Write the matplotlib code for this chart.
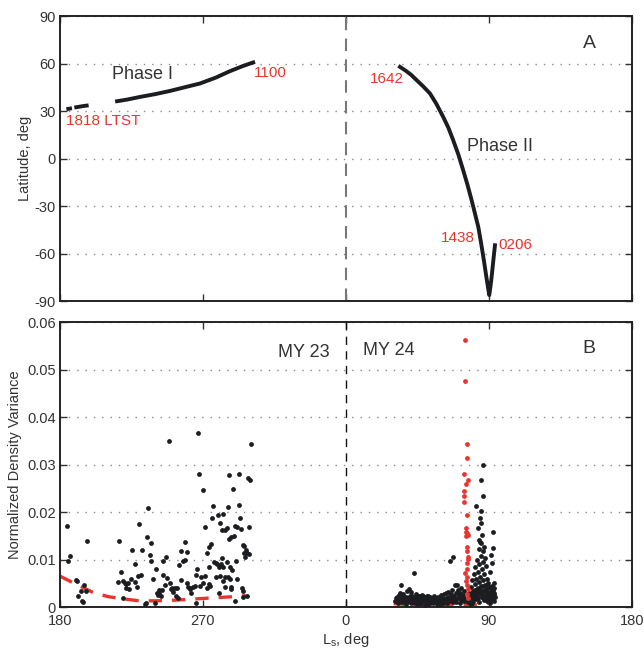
import numpy as np
import matplotlib
matplotlib.use("Agg")
import matplotlib.pyplot as plt

plt.rcParams["font.family"] = ["Liberation Sans", "DejaVu Sans"]
plt.rcParams["axes.unicode_minus"] = False

# Orbit track: latitude vs Ls. MY 23 values are Ls 180-360, MY 24 values Ls 0-180
phase1_early_ls = [184.0, 186.0, 187.5, np.nan, 189.0, 192.0, 195.0, 198.0]
phase1_early_lat = [31.3, 31.6, 31.9, np.nan, 32.3, 32.8, 33.3, 33.7]
phase1_ls = [215.9, 222.0, 230.3, 240.0, 249.2, 258.0, 268.1, 278.0, 287.0, 295.0, 301.6]
phase1_lat = [36.3, 37.3, 39.0, 40.8, 42.8, 45.0, 47.5, 51.2, 55.3, 58.5, 60.8]
phase2_ls = [34.0, 38.0, 41.0, 44.5, 48.5, 52.9, 57.0, 61.2, 64.5, 67.5, 70.8, 73.8,
             76.5, 79.1, 81.3, 83.3, 85.1, 86.8, 88.5, 90.2, 91.0, 91.7, 92.8, 93.8]
phase2_lat = [58.0, 55.3, 53.0, 49.6, 45.8, 41.2, 34.5, 26.4, 19.5, 11.7, 2.5, -7.3,
              -16.5, -26.2, -35.0, -43.1, -53.5, -64.1, -75.5, -86.2, -80.5, -74.7, -64.0, -54.7]

# Density variance, MY 23 (black)
my23_ls = [184.4, 186.3, 185.0, 190.1, 190.8, 195.1, 193.4, 196.4, 191.3, 193.8, 194.7,
           197.2, 217.3, 218.6, 216.5, 219.9, 220.9, 221.8, 222.6, 221.5, 223.2, 219.4,
           225.3, 227.0, 224.5, 227.4, 228.3, 229.1, 230.8, 229.9, 231.8, 235.4, 234.8,
           237.5, 236.6, 237.1, 240.4, 238.7, 242.5, 241.7, 234.1, 239.6, 241.0, 233.8,
           243.4, 242.2,
           246.7, 245.0, 244.6, 247.1, 245.9, 244.0, 249.2, 250.3, 251.3, 252.4, 253.8,
           253.0, 254.5, 256.0, 255.1, 256.3, 258.9, 259.7, 257.6, 258.7, 259.7, 260.7,
           261.8, 262.6, 263.5, 264.8, 265.6, 266.4, 265.6, 267.3, 266.8, 269.8, 268.9,
           270.2, 271.0, 272.3, 273.6, 274.4, 271.0, 272.7, 274.0, 274.8, 275.5, 276.5,
           274.0, 276.9, 278.2, 279.0, 279.6, 280.7, 281.9, 282.8, 283.6, 284.9, 285.7,
           286.5, 286.2, 287.4, 289.0, 289.5, 290.3, 291.2, 292.4, 292.4, 293.3, 294.1,
           295.0, 295.8, 297.1, 297.9, 299.1, 298.3, 299.6, 300.4, 298.8, 295.8, 296.6,
           290.8, 284.9, 281.9, 281.1, 280.3, 282.8, 287.0, 288.2, 283.8, 285.9, 278.2,
           280.7, 287.0, 291.6, 283.8, 282.8, 287.4, 287.8, 294.5, 295.0, 295.4, 279.8,
           290.3, 297.9, 248.9, 250.0, 262.0, 268.0]
my23_var = [0.0170, 0.0107, 0.0097, 0.0057, 0.0054, 0.0047, 0.0034, 0.0034, 0.0023, 0.0013, 0.0011,
            0.0138, 0.0140, 0.0074, 0.0053, 0.0055, 0.0050, 0.0048, 0.0050, 0.0039, 0.0037, 0.0020,
            0.0121, 0.0091, 0.0060, 0.0053, 0.0043, 0.0065, 0.0067, 0.0175, 0.0121, 0.0208, 0.0148,
            0.0135, 0.0109, 0.0097, 0.0081, 0.0059, 0.0036, 0.0025, 0.0008, 0.0009, 0.0029, 0.0007,
            0.0023, 0.0030,
            0.0106, 0.0097, 0.0067, 0.0061, 0.0046, 0.0036, 0.0050, 0.0041, 0.0032, 0.0041, 0.0041,
            0.0023, 0.0018, 0.0057, 0.0089, 0.0119, 0.0137, 0.0116, 0.0097, 0.0100, 0.0051, 0.0043,
            0.0037, 0.0030, 0.0043, 0.0044, 0.0067, 0.0081, 0.0008, 0.0280, 0.0366, 0.0246, 0.0064,
            0.0050, 0.0066, 0.0041, 0.0048, 0.0044, 0.0169, 0.0114, 0.0126, 0.0133, 0.0187, 0.0213,
            0.0085, 0.0095, 0.0093, 0.0091, 0.0194, 0.0176, 0.0163, 0.0196, 0.0162, 0.0166, 0.0210,
            0.0278, 0.0143, 0.0147, 0.0248, 0.0149, 0.0171, 0.0169, 0.0215, 0.0281, 0.0187, 0.0164,
            0.0131, 0.0128, 0.0120, 0.0114, 0.0169, 0.0271, 0.0267, 0.0343, 0.0112, 0.0113, 0.0106,
            0.0097, 0.0095, 0.0103, 0.0091, 0.0084, 0.0085, 0.0084, 0.0078, 0.0064, 0.0064, 0.0064,
            0.0066, 0.0058, 0.0058, 0.0043, 0.0055, 0.0043, 0.0037, 0.0041, 0.0034, 0.0022, 0.0030,
            0.0012, 0.0023, 0.0349, 0.0038, 0.0040, 0.0045]

# Density variance, MY 24 (black)
my24_ls = [31.0, 32.0, 32.5, 33.0, 34.0, 34.6, 35.0, 35.5, 36.0, 37.0, 37.5, 38.0, 38.5, 39.0,
           39.6, 40.0, 40.9, 41.0, 41.5, 42.0,
           43.0, 43.0, 43.5, 44.0, 44.5, 45.0, 45.5, 46.0, 46.6, 47.0, 47.5, 48.0, 48.6, 49.0,
           49.5, 50.0, 50.8, 51.4, 51.5, 52.0, 52.5, 53.0, 53.5, 54.0, 54.5, 55.0,
           55.5, 56.0, 56.5, 57.0, 57.5, 58.0, 58.5, 59.0, 59.5, 60.0, 60.5, 61.0, 61.5, 62.0,
           62.5, 63.0, 63.5, 64.0, 64.4, 65.0,
           65.8, 66.0, 66.5, 67.0, 67.5, 67.5, 68.0, 68.6, 69.0, 69.5, 70.0, 70.5, 71.0, 71.5,
           72.0, 72.5, 73.0, 73.5, 74.0, 74.5,
           77.0, 77.5, 78.0, 78.5, 79.0, 79.5, 80.0, 80.0, 80.5, 81.0, 81.0, 81.5, 81.8, 82.0,
           82.0, 82.5, 82.5, 83.0, 83.0, 83.2, 83.5, 83.5, 83.9, 84.0, 84.0, 84.3, 84.3, 84.5,
           84.7, 84.7, 85.0, 85.0, 85.1, 85.3, 85.5, 85.5, 85.8, 86.0, 86.0, 86.0, 86.0, 86.5,
           86.5, 87.0, 87.0, 87.0, 87.5, 87.5, 88.0, 88.0, 88.5, 88.5, 89.0, 89.0, 89.5, 90.0,
           90.0, 90.6, 91.0, 91.0, 91.6, 92.0, 92.0, 92.2, 92.7, 92.7, 93.0, 93.0, 93.5, 93.5,
           94.0, 79.5, 80.5, 82.0, 83.0, 84.5, 85.5, 86.5, 88.0, 89.5, 91.0, 92.5, 78.5, 90.5]
my24_var = [0.0012, 0.0022, 0.0008, 0.0016, 0.0030, 0.0046, 0.0010, 0.0020, 0.0027, 0.0014,
            0.0006, 0.0022, 0.0033, 0.0012, 0.0037, 0.0018, 0.0032, 0.0008, 0.0024, 0.0014,
            0.0071, 0.0020, 0.0010, 0.0028, 0.0016, 0.0006, 0.0024, 0.0013, 0.0023, 0.0018,
            0.0009, 0.0026, 0.0024, 0.0014, 0.0005, 0.0020, 0.0023, 0.0024, 0.0012, 0.0017,
            0.0007, 0.0022, 0.0013, 0.0019, 0.0009, 0.0016,
            0.0024, 0.0011, 0.0019, 0.0007, 0.0015, 0.0022, 0.0012, 0.0018, 0.0006, 0.0025,
            0.0014, 0.0020, 0.0010, 0.0027, 0.0016, 0.0030, 0.0009, 0.0021, 0.0032, 0.0014,
            0.0097, 0.0028, 0.0018, 0.0035, 0.0106, 0.0011, 0.0024, 0.0046, 0.0030, 0.0017,
            0.0046, 0.0036, 0.0022, 0.0009, 0.0030, 0.0040, 0.0018, 0.0026, 0.0012, 0.0034,
            0.0015, 0.0030, 0.0008, 0.0042, 0.0022, 0.0056, 0.0034, 0.0012, 0.0070, 0.0048,
            0.0026, 0.0084, 0.0213, 0.0060, 0.0016, 0.0100, 0.0038, 0.0074, 0.0028, 0.0166,
            0.0122, 0.0052, 0.0141, 0.0090, 0.0010, 0.0187, 0.0137, 0.0064, 0.0176, 0.0135,
            0.0108, 0.0044, 0.0267, 0.0203, 0.0080, 0.0022, 0.0152, 0.0299, 0.0234, 0.0118,
            0.0056, 0.0094, 0.0034, 0.0126, 0.0070, 0.0014, 0.0104, 0.0046, 0.0086, 0.0026,
            0.0060, 0.0040, 0.0032, 0.0012, 0.0050, 0.0024, 0.0042, 0.0074, 0.0036, 0.0016,
            0.0109, 0.0044, 0.0028, 0.0092, 0.0159, 0.0124, 0.0050, 0.0030, 0.0040, 0.0012,
            0.0022, 0.0008, 0.0018, 0.0030, 0.0020, 0.0036, 0.0028, 0.0020, 0.0034, 0.0016,
            0.0026, 0.0018, 0.0006, 0.0008]

# Low-variance band of MY 24 orbits near the floor
band24_ls = [31.5, 32.8, 33.6, 34.3, 36.3, 36.8, 38.3, 39.4, 40.3, 41.8, 42.6, 43.8, 44.8,
             45.8, 46.3, 47.3, 48.3, 49.3, 50.3, 51.0, 52.3, 53.3, 54.3, 55.3, 56.3, 57.3,
             58.3, 59.3, 60.3, 61.3, 62.3, 63.3, 64.3, 65.3, 66.3, 67.3, 68.3, 69.3, 70.3,
             71.3, 72.3, 73.3, 74.3, 77.3, 78.3, 79.3, 80.3, 81.3, 82.3, 83.3, 84.3, 85.3,
             86.3, 87.3, 88.3, 89.3, 90.3, 91.3, 92.3, 93.3, 76.8, 88.8, 90.8, 86.8]
band24_var = [0.0018, 0.0013, 0.0025, 0.0019, 0.0015, 0.0021, 0.0011, 0.0016, 0.0024, 0.0019,
              0.0009, 0.0015, 0.0021, 0.0018, 0.0008, 0.0013, 0.0017, 0.0021, 0.0011, 0.0016,
              0.0020, 0.0010, 0.0015, 0.0021, 0.0016, 0.0011, 0.0017, 0.0013, 0.0019, 0.0009,
              0.0014, 0.0020, 0.0012, 0.0018, 0.0013, 0.0021, 0.0016, 0.0011, 0.0019, 0.0026,
              0.0015, 0.0022, 0.0019, 0.0022, 0.0019, 0.0030, 0.0024, 0.0036, 0.0028, 0.0040,
              0.0032, 0.0028, 0.0044, 0.0036, 0.0018, 0.0045, 0.0030, 0.0022, 0.0036, 0.0026,
              0.0010, 0.0028, 0.0018, 0.0020]

# Density variance, MY 24 (red column)
red_ls = [74.9, 74.9, 75.9, 76.1, 74.2, 76.6, 75.5, 74.2, 74.2, 74.4, 76.1, 75.3, 75.5,
          76.1, 76.6, 75.5, 76.3, 76.3, 76.6, 76.6, 76.3, 75.9, 75.1, 75.9, 75.7, 76.3,
          76.6, 76.3, 76.6]
red_var = [0.0562, 0.0476, 0.0344, 0.0313, 0.0280, 0.0267, 0.0259, 0.0245, 0.0234, 0.0222,
           0.0194, 0.0166, 0.0158, 0.0155, 0.0152, 0.0150, 0.0126, 0.0118, 0.0105, 0.0102,
           0.0093, 0.0081, 0.0071, 0.0064, 0.0055, 0.0046, 0.0037, 0.0027, 0.0020]

# Background level (red dashed)
bg23_ls = [180, 190, 200, 210, 220, 230, 240, 250, 260, 270, 280, 290, 297]
bg23_var = [0.0065, 0.0048, 0.0032, 0.0022, 0.0017, 0.0013, 0.0013, 0.0014, 0.0016,
            0.0018, 0.0020, 0.0022, 0.0024]
bg24_ls = [30, 40, 50, 60, 70, 80, 88, 92]
bg24_var = [0.0007, 0.0005, 0.0004, 0.0004, 0.0005, 0.0005, 0.0006, 0.0012]

xtick_pos = [180, 270, 360, 450, 540]
xtick_labels = ["180", "270", "0", "90", "180"]

RED = "#e8352e"
INK = "#1b1d20"
TXT = "#333333"


def my24(ls):
    # MY 24 season follows MY 23 on the same axis
    return np.asarray(ls, dtype=float) + 360.0


def style_axes(ax):
    ax.set_xlim(180, 540)
    ax.set_xticks(xtick_pos)
    ax.tick_params(direction="in", top=True, right=True, length=5, width=1,
                   labelsize=10.5, colors=TXT)
    ax.tick_params(axis="x", pad=5)
    ax.tick_params(axis="y", pad=3)
    for s in ax.spines.values():
        s.set_linewidth(1.4)
        s.set_color("#222222")
    ax.yaxis.grid(True, linestyle=(0, (1, 5)), color="#888888", linewidth=1)
    ax.set_axisbelow(True)


fig = plt.figure(figsize=(6.44, 6.49), dpi=100)
ax1 = fig.add_axes([0.0932, 0.536, 0.888, 0.439])
ax2 = fig.add_axes([0.0932, 0.0647, 0.888, 0.439])

# Panel A
style_axes(ax1)
ax1.set_ylim(-90, 90)
ax1.set_yticks(np.arange(-90, 91, 30))
ax1.set_xticklabels([])
ax1.axvline(360, color="#777777", lw=1.5, dashes=(6, 4))
ax1.plot(phase1_early_ls, phase1_early_lat, color=INK, lw=2.8, solid_capstyle="butt")
ax1.plot(phase1_ls, phase1_lat, color=INK, lw=2.8, solid_joinstyle="round")
ax1.plot(my24(phase2_ls), phase2_lat, color=INK, lw=2.8, solid_joinstyle="round")
ax1.set_ylabel("Latitude, deg", fontsize=10.5, color=TXT, labelpad=2)

ax1.text(212.5, 53.4, "Phase I", fontsize=13, color=TXT, va="center")
ax1.text(my24(76), 7.9, "Phase II", fontsize=13, color=TXT, va="center")
ax1.text(183.8, 23.9, "1818 LTST", fontsize=11, color=RED, va="center")
ax1.text(302, 54.4, "1100", fontsize=11, color=RED, va="center")
ax1.text(my24(36.5), 50.6, "1642", fontsize=11, color=RED, va="center", ha="right")
ax1.text(my24(81.2), -50.4, "1438", fontsize=11, color=RED, va="center", ha="right")
ax1.text(my24(95.8), -54.7, "0206", fontsize=11, color=RED, va="center")
ax1.text(my24(149), 72.8, "A", fontsize=14, color=TXT, va="center")

# Panel B
style_axes(ax2)
ax2.set_ylim(0, 0.06)
ax2.set_yticks(np.arange(0, 0.061, 0.01))
ax2.set_yticklabels(["0", "0.01", "0.02", "0.03", "0.04", "0.05", "0.06"])
ax2.set_xticklabels(xtick_labels)
ax2.axvline(360, color="#111111", lw=1, dashes=(6, 4.5))
ax2.plot(bg23_ls, bg23_var, color=RED, lw=2.4, dashes=(4, 3))
ax2.plot(my24(bg24_ls), bg24_var, color=RED, lw=2.4, dashes=(4, 3))
ax2.scatter(my23_ls, my23_var, s=12, color=INK, linewidths=0, zorder=3)
ax2.scatter(my24(my24_ls), my24_var, s=12, color=INK, linewidths=0, zorder=3)
ax2.scatter(my24(band24_ls), band24_var, s=12, color=INK, linewidths=0, zorder=3)
ax2.scatter(my24(red_ls), red_var, s=12, color=RED, linewidths=0, zorder=4)
ax2.set_ylabel("Normalized Density Variance", fontsize=10.5, color=TXT, labelpad=4)
ax2.set_xlabel(r"L$_\mathregular{s}$, deg", fontsize=10.5, color=TXT, labelpad=2)

ax2.text(350, 0.0537, "MY 23", fontsize=13, color=TXT, va="center", ha="right")
ax2.text(my24(10.5), 0.0541, "MY 24", fontsize=13, color=TXT, va="center")
ax2.text(my24(149), 0.0545, "B", fontsize=14, color=TXT, va="center")

fig.savefig("out.png", dpi=100)
